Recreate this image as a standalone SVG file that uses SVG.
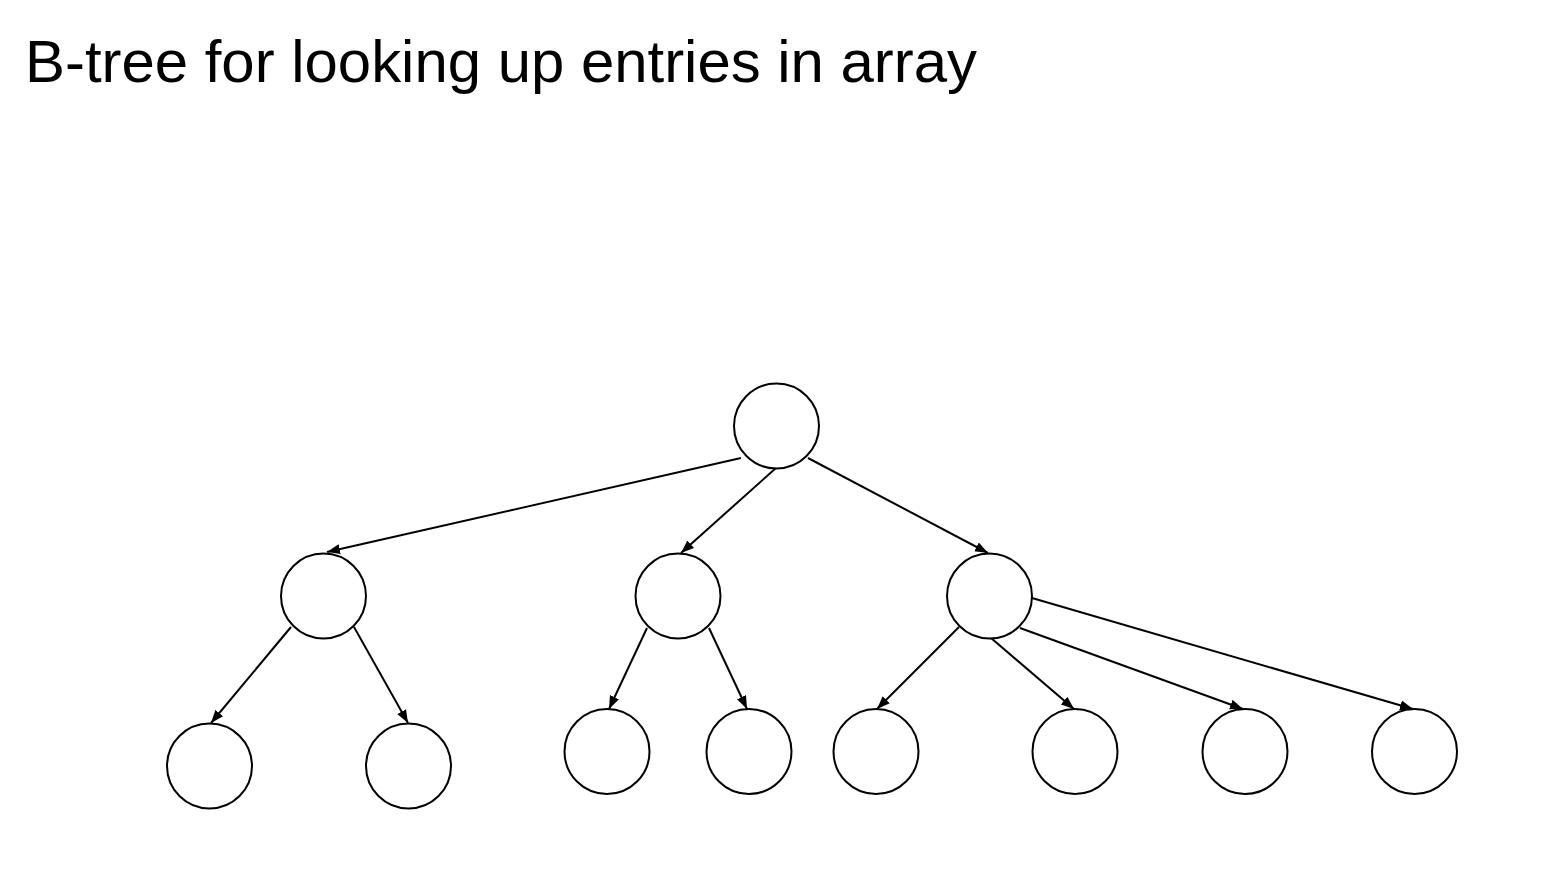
<svg xmlns="http://www.w3.org/2000/svg" width="1544" height="873" viewBox="0 0 1544 873">
<style>
.node{fill:#fff;stroke:#000;stroke-width:2}
.edge{stroke:#000;stroke-width:2;fill:none;marker-end:url(#arr)}
.title{font-family:"Liberation Sans",Arial,sans-serif;font-size:60px;fill:#000}
</style>
<defs>
<marker id="arr" markerUnits="userSpaceOnUse" markerWidth="14" markerHeight="12" refX="13" refY="6" orient="auto">
<path d="M0,1 L13,6 L0,11 z" fill="#000"/>
</marker>
</defs>
<rect width="1544" height="873" fill="#fff"/>
<text class="title" x="25" y="82" textLength="952" lengthAdjust="spacingAndGlyphs">B-tree for looking up entries in array</text>
<g id="connectors">
<line class="edge" x1="741" y1="458" x2="327" y2="552"/>
<line class="edge" x1="776" y1="468" x2="681" y2="553"/>
<line class="edge" x1="808" y1="458" x2="988" y2="553"/>
<line class="edge" x1="291" y1="627" x2="211" y2="723"/>
<line class="edge" x1="354" y1="627" x2="408" y2="723"/>
<line class="edge" x1="647" y1="628" x2="609" y2="709"/>
<line class="edge" x1="709" y1="628" x2="747" y2="709"/>
<line class="edge" x1="959" y1="627" x2="877" y2="709"/>
<line class="edge" x1="991" y1="638" x2="1074" y2="709"/>
<line class="edge" x1="1020" y1="628" x2="1243" y2="709"/>
<line class="edge" x1="1032" y1="598" x2="1413" y2="709"/>
</g>
<g id="root"><circle class="node" cx="776.5" cy="426" r="42.5"/></g>
<g id="n1"><circle class="node" cx="323.5" cy="596" r="42.5"/></g>
<g id="n2"><circle class="node" cx="678" cy="596" r="42.5"/></g>
<g id="n3"><circle class="node" cx="989.5" cy="596" r="42.5"/></g>
<g id="l1"><circle class="node" cx="209.5" cy="766" r="42.5"/></g>
<g id="l2"><circle class="node" cx="408.5" cy="766" r="42.5"/></g>
<g id="l3"><circle class="node" cx="607" cy="751.5" r="42.5"/></g>
<g id="l4"><circle class="node" cx="749" cy="751.5" r="42.5"/></g>
<g id="l5"><circle class="node" cx="876" cy="751.5" r="42.5"/></g>
<g id="l6"><circle class="node" cx="1075" cy="751.5" r="42.5"/></g>
<g id="l7"><circle class="node" cx="1245" cy="751.5" r="42.5"/></g>
<g id="l8"><circle class="node" cx="1414.5" cy="751.5" r="42.5"/></g>
</svg>
